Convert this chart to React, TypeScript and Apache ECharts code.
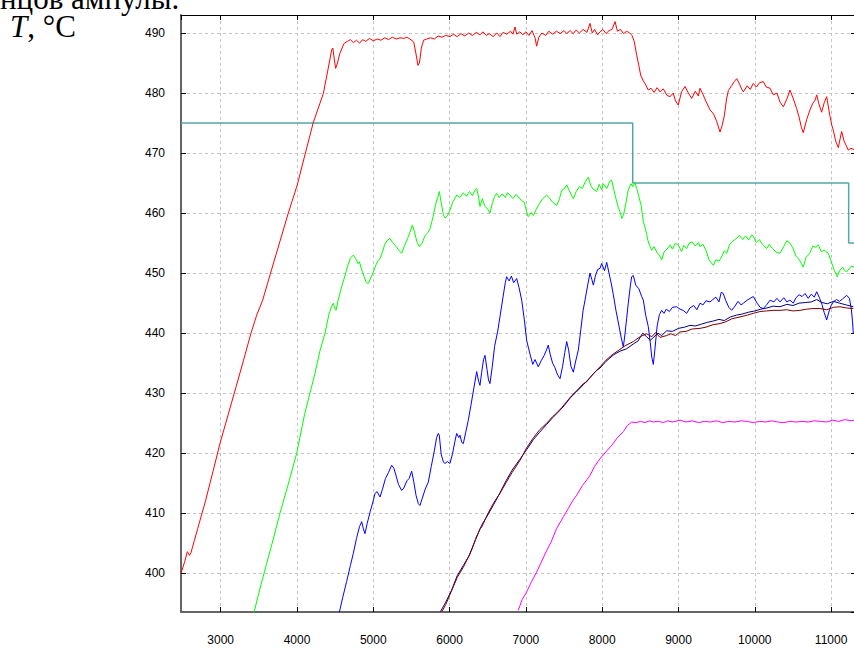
import React, { useEffect, useRef } from "react";
import * as echarts from "echarts";

const xTickLabels = ["3000", "4000", "5000", "6000", "7000", "8000", "9000", "10000", "11000"];
const yTickLabels = ["400", "410", "420", "430", "440", "450", "460", "470", "480", "490"];

const redSeries: [number, number][] = [
  [2480, 400], [2530, 402], [2563, 403.6], [2590, 403], [2610, 403.4], [2700, 407.5], [2800, 412], [2900, 417],
  [2990, 421.6], [3100, 426.5], [3200, 431], [3300, 435.5], [3397, 440], [3472, 443], [3550, 445.5], [3700, 452],
  [3886, 460], [4004, 464.7], [4100, 469.5], [4214, 475.1], [4345, 479.9], [4400, 483.5], [4455, 487.2], [4470, 487.5],
  [4490, 485.5], [4507, 484.1], [4530, 485], [4560, 486.5], [4600, 487.8], [4620, 488.3], [4660, 488.6], [4700, 488.9],
  [4740, 488.4], [4780, 488.8], [4820, 488.3], [4860, 488.9], [4900, 488.6], [4950, 489.1], [5000, 488.7], [5050, 489],
  [5100, 488.8], [5150, 489.2], [5200, 488.9], [5250, 489.3], [5300, 489], [5350, 489.2], [5400, 489.1], [5440, 489.3],
  [5480, 489], [5530, 488.5], [5560, 486.5], [5585, 484.6], [5605, 485], [5630, 487.5], [5660, 488.8], [5700, 489],
  [5750, 489.2], [5800, 489], [5850, 489.5], [5900, 489.3], [5950, 489.6], [6005, 489.4], [6050, 489.8], [6100, 489.4],
  [6150, 489.9], [6200, 489.5], [6250, 490], [6300, 489.6], [6350, 490.1], [6400, 489.7], [6437, 490.2], [6480, 489.6],
  [6520, 489.9], [6570, 489.4], [6620, 490], [6660, 489.4], [6700, 490.1], [6750, 489.8], [6800, 490.3], [6830, 489.8],
  [6857, 491], [6880, 489.8], [6920, 490.2], [6960, 489.7], [7000, 490.2], [7040, 489.6], [7080, 490.4], [7120, 489.2],
  [7141, 487.8], [7170, 489.3], [7210, 490], [7260, 489.6], [7300, 490.3], [7350, 489.8], [7400, 490.3], [7450, 489.9],
  [7500, 490.4], [7535, 489.9], [7580, 490.4], [7620, 489.9], [7660, 490.5], [7700, 490], [7750, 490.6], [7800, 490.1],
  [7840, 491.6], [7870, 490], [7900, 490.6], [7940, 489.7], [7971, 490.2], [8010, 490.6], [8050, 489.9], [8090, 490.4],
  [8130, 490.6], [8168, 491.9], [8200, 490.3], [8240, 490.6], [8280, 489.9], [8321, 490.3], [8360, 490], [8390, 489.6],
  [8420, 488.6], [8452, 486.3], [8480, 484.6], [8504, 483], [8540, 482], [8561, 481.6], [8604, 480.5], [8640, 480.8],
  [8680, 480.1], [8720, 480.9], [8757, 480.2], [8800, 480.7], [8850, 479.6], [8889, 479.4], [8930, 480], [8960, 478.7],
  [8997, 478], [9040, 480.2], [9085, 481.1], [9130, 480], [9173, 479.1], [9220, 480.3], [9260, 479.5], [9282, 480.8],
  [9320, 479.8], [9360, 478.6], [9413, 477.2], [9460, 476.5], [9500, 475.3], [9544, 473.5], [9570, 474.5], [9600, 476.2],
  [9630, 479], [9653, 480.4], [9700, 481.3], [9730, 481.9], [9763, 482.4], [9800, 481.5], [9830, 480.6], [9850, 480.2],
  [9900, 481.2], [9940, 480.6], [9980, 481.6], [10020, 481], [10060, 481.7], [10111, 481.9], [10150, 481], [10200, 480.8],
  [10242, 479.7], [10290, 480], [10330, 478.5], [10374, 477.7], [10420, 479], [10461, 480.5], [10500, 479.2], [10549, 477.4],
  [10580, 476], [10610, 474.3], [10635, 473.4], [10680, 475.6], [10723, 477.2], [10760, 478.3], [10790, 478.8], [10811, 479.7],
  [10840, 478.2], [10876, 476.8], [10910, 478.4], [10942, 479.4], [10980, 476.5], [11010, 474.6], [11029, 473.8], [11060, 472],
  [11094, 470.9], [11120, 472.5], [11138, 473.6], [11170, 472], [11200, 471.2], [11225, 470.5], [11260, 470.8], [11300, 470.6],
];

const greenSeries: [number, number][] = [
  [3437, 393.5], [3500, 396.7], [3600, 401.5], [3700, 406.2], [3777, 410], [3900, 415.5], [3996, 420], [4100, 426.5],
  [4236, 433.3], [4300, 437], [4367, 440], [4420, 443.2], [4455, 444.5], [4476, 445], [4500, 444], [4511, 443.8],
  [4540, 445.5], [4580, 447.5], [4620, 449.2], [4660, 451], [4700, 452.5], [4738, 453], [4770, 452.4], [4800, 451.6],
  [4817, 451.9], [4850, 450.5], [4880, 449.4], [4910, 448.4], [4935, 448.3], [4960, 449], [5000, 450.2], [5040, 451.5],
  [5066, 452.2], [5088, 452.4], [5120, 453.5], [5150, 454.8], [5180, 455.4], [5219, 455.8], [5250, 455.1], [5290, 454.6],
  [5330, 453.9], [5372, 453.3], [5410, 454.6], [5450, 455.8], [5480, 456.8], [5512, 458], [5540, 456.9], [5570, 455.3],
  [5603, 454.4], [5640, 455], [5680, 456.3], [5720, 456.8], [5743, 457.4], [5780, 459.2], [5820, 461.6], [5850, 462.8],
  [5865, 463.6], [5890, 461.8], [5920, 459.6], [5940, 459.2], [5970, 459.5], [6005, 460.5], [6040, 461.8], [6093, 463],
  [6136, 462.6], [6180, 463.4], [6220, 462.8], [6260, 463.6], [6300, 462.9], [6330, 463.8], [6355, 464.1], [6380, 462.7],
  [6398, 461.1], [6430, 462.4], [6460, 461.2], [6500, 460.6], [6529, 460], [6560, 461.6], [6590, 462.8], [6617, 463.3],
  [6650, 462.6], [6690, 463.2], [6730, 462.6], [6760, 463.4], [6791, 463], [6830, 462.4], [6870, 463.1], [6900, 462.7],
  [6940, 462.1], [6980, 461.8], [7010, 460.2], [7031, 459.4], [7070, 460.1], [7100, 459.6], [7141, 460.8], [7180, 461.6],
  [7220, 462.4], [7272, 463], [7310, 462.5], [7350, 461.8], [7404, 461.3], [7440, 462.4], [7470, 463.8], [7500, 464],
  [7535, 464.7], [7570, 463.7], [7600, 462.9], [7622, 462.4], [7660, 463.6], [7700, 464.4], [7740, 464.1], [7780, 465.3],
  [7818, 466], [7850, 464.6], [7880, 464], [7928, 463.6], [7960, 464.8], [7993, 463.9], [8015, 464.9], [8060, 464.1],
  [8100, 465.3], [8124, 465.5], [8150, 464], [8180, 462.4], [8210, 461], [8240, 460], [8256, 459.1], [8280, 459.7],
  [8310, 461.6], [8340, 463.8], [8378, 464.9], [8400, 464.4], [8430, 465.1], [8452, 464.1], [8480, 462.8], [8510, 461.3],
  [8539, 458.6], [8570, 457.2], [8604, 455.2], [8630, 454.4], [8648, 453.8], [8680, 454.4], [8720, 453.4], [8750, 453],
  [8779, 452.2], [8810, 453.5], [8850, 454], [8889, 454.7], [8920, 454], [8960, 455], [9000, 454.6], [9040, 453.6],
  [9070, 454.6], [9107, 454.1], [9140, 455], [9180, 455.2], [9220, 454.5], [9260, 455.1], [9282, 454.4], [9320, 454.8],
  [9360, 453.8], [9400, 452.2], [9457, 451.3], [9490, 452.2], [9530, 452], [9560, 452.6], [9600, 453.7], [9632, 453.3],
  [9670, 454.8], [9710, 455.3], [9763, 455.8], [9800, 456.3], [9840, 455.6], [9880, 456.2], [9920, 455.5], [9960, 456.4],
  [9980, 456.1], [10020, 455.1], [10060, 455.6], [10100, 454.8], [10156, 454.1], [10190, 454.8], [10230, 454.1], [10280, 453.5],
  [10330, 453.3], [10370, 454.2], [10420, 455.4], [10461, 455], [10500, 454.2], [10540, 452.8], [10580, 452.3], [10610, 451.6],
  [10635, 451], [10670, 452.6], [10720, 453.3], [10760, 454.5], [10800, 454.3], [10832, 454.7], [10870, 453.6], [10910, 453.8],
  [10963, 453.3], [11000, 452], [11040, 450.5], [11081, 449.4], [11110, 450.4], [11150, 451], [11180, 450.4], [11204, 450.2],
  [11240, 450.8], [11270, 451.2], [11300, 451],
];

const blueSeries: [number, number][] = [
  [4555, 393.5], [4600, 396], [4650, 398.6], [4700, 401.3], [4738, 403.3], [4780, 405.8], [4820, 407.8], [4848, 408.6],
  [4870, 407.4], [4891, 406.6], [4920, 408.3], [4960, 410.3], [5000, 412.1], [5022, 413.3], [5050, 413.6], [5088, 412.7],
  [5120, 414], [5160, 415.8], [5200, 416.8], [5241, 418], [5270, 417.5], [5300, 416.2], [5330, 414.8], [5372, 413.8],
  [5400, 414.2], [5440, 415.4], [5470, 415.8], [5503, 417], [5530, 415.3], [5560, 413], [5590, 411.6], [5612, 411.3],
  [5640, 412.4], [5680, 414], [5721, 415.2], [5760, 417.8], [5800, 420.4], [5830, 422.6], [5852, 423.3], [5865, 423],
  [5890, 419.8], [5920, 418.5], [5940, 418.3], [5970, 418.6], [6005, 418.3], [6040, 420], [6070, 422], [6093, 423.3],
  [6120, 422.6], [6136, 423], [6160, 421.8], [6180, 421.6], [6210, 423.4], [6245, 425.5], [6280, 428], [6320, 431],
  [6355, 433.6], [6380, 432], [6398, 431.3], [6420, 433.4], [6445, 435.6], [6464, 436.3], [6490, 434], [6510, 432.2],
  [6529, 431.6], [6560, 434.5], [6590, 437.8], [6630, 440.3], [6660, 442.7], [6700, 446], [6730, 448.4], [6747, 449.4],
  [6780, 448.7], [6810, 449.5], [6840, 448.4], [6879, 449.1], [6910, 447.6], [6945, 445.5], [6980, 442.2], [7010, 438.8],
  [7031, 437.7], [7060, 436.2], [7090, 434.8], [7120, 435.6], [7162, 434.4], [7200, 435.4], [7240, 436.3], [7270, 437.2],
  [7293, 438], [7320, 436.4], [7350, 435], [7380, 434.3], [7410, 433.2], [7447, 432.4], [7480, 434.4], [7510, 436.8],
  [7535, 438.6], [7560, 437.2], [7590, 434.5], [7622, 433.5], [7650, 435.2], [7687, 437.2], [7720, 440.6], [7750, 443.8],
  [7775, 445.5], [7810, 448], [7840, 450], [7865, 448.9], [7884, 448], [7910, 449.5], [7940, 450.6], [7972, 450.8],
  [7993, 451.6], [8030, 450.4], [8059, 451.8], [8090, 450], [8120, 448.2], [8146, 446.4], [8180, 443.8], [8220, 441.2],
  [8250, 439.2], [8277, 437.7], [8300, 440], [8320, 442.4], [8342, 445], [8370, 448], [8386, 449.4], [8408, 449.6],
  [8440, 448], [8480, 447.4], [8518, 446.1], [8539, 445.5], [8570, 443], [8604, 441.1], [8630, 438.4], [8650, 436],
  [8670, 434.8], [8690, 437.2], [8720, 441.2], [8750, 443.1], [8779, 443.8], [8810, 443.3], [8840, 444], [8880, 443.6],
  [8920, 444.3], [8976, 444.4], [9020, 444], [9060, 443.8], [9107, 443.3], [9150, 444.2], [9200, 444.6], [9240, 443.9],
  [9282, 445], [9320, 444.7], [9360, 445.4], [9413, 445.2], [9450, 445.6], [9490, 446], [9530, 445.2], [9560, 446.8],
  [9587, 446.6], [9620, 445.4], [9660, 444.3], [9697, 443.8], [9740, 444.5], [9780, 445.3], [9820, 444.7], [9850, 445],
  [9900, 445.5], [9940, 445.8], [9980, 446.1], [10030, 445], [10070, 444.3], [10111, 444.1], [10160, 444.8], [10200, 445.5],
  [10250, 445.2], [10290, 445.8], [10330, 445.2], [10380, 445.9], [10420, 445.2], [10460, 445.5], [10505, 445], [10540, 445.9],
  [10580, 446.4], [10620, 446.1], [10658, 446.6], [10700, 445.8], [10740, 446.5], [10780, 446], [10811, 446.9], [10850, 445.8],
  [10880, 444.8], [10910, 443.4], [10942, 442.2], [10970, 443.5], [11000, 444.6], [11029, 445.2], [11070, 445.6], [11110, 445.3],
  [11150, 445.7], [11204, 446.3], [11240, 445.8], [11265, 444], [11280, 442], [11291, 440],
];

const maroonSeries: [number, number][] = [
  [5900, 393.6], [5950, 394.8], [6000, 396.3], [6050, 397.8], [6100, 399.3], [6180, 401], [6250, 402.8], [6300, 404.3],
  [6350, 406], [6398, 407.4], [6421, 407.7], [6500, 409.9], [6580, 411.8], [6660, 413.3], [6740, 415.1], [6820, 416.8],
  [6922, 418.8], [7010, 420.9], [7100, 422.6], [7180, 423.9], [7272, 425], [7350, 426.1], [7404, 426.7], [7470, 427.6],
  [7535, 428.6], [7600, 429.6], [7680, 430.6], [7753, 431.6], [7797, 431.9], [7880, 433.2], [7972, 434.4], [8050, 435.5],
  [8130, 436.4], [8233, 437.3], [8300, 437.9], [8408, 438.6], [8495, 439.4], [8583, 439.9], [8650, 439.4], [8700, 440.1],
  [8757, 439.3], [8845, 439.6], [8900, 439.9], [8960, 439.6], [9019, 440.2], [9100, 440.3], [9180, 440.7], [9282, 440.8],
  [9360, 441], [9450, 441.4], [9544, 441.6], [9620, 441.9], [9700, 442.4], [9806, 442.7], [9900, 443], [9980, 443.3],
  [10068, 443.6], [10150, 443.7], [10250, 443.8], [10330, 443.8], [10420, 443.9], [10500, 443.7], [10592, 443.8], [10680, 444],
  [10760, 444.1], [10854, 444.1], [10940, 443.9], [11030, 444.3], [11117, 444.4], [11200, 444.2], [11291, 444.1],
];

const navySeries: [number, number][] = [
  [5880, 393.6], [5950, 395.2], [6020, 397], [6100, 399.6], [6180, 401.3], [6260, 403], [6340, 405.6], [6420, 408],
  [6500, 409.7], [6580, 411.5], [6660, 413.4], [6740, 415.4], [6820, 417.2], [6922, 419], [7010, 420.6], [7100, 422.3],
  [7180, 423.5], [7272, 424.8], [7350, 425.9], [7420, 426.8], [7500, 427.9], [7580, 429.2], [7660, 430.2], [7753, 431.4],
  [7840, 432.6], [7920, 433.7], [7972, 434.2], [8050, 435.3], [8150, 436.4], [8233, 437], [8320, 437.4], [8408, 438.2],
  [8470, 438.7], [8530, 440], [8583, 439.4], [8630, 438.8], [8680, 439.4], [8730, 440], [8780, 439.6], [8845, 440.4],
  [8920, 440.3], [9000, 440.8], [9080, 441], [9150, 441.3], [9220, 441.2], [9300, 441.5], [9380, 441.8], [9450, 442],
  [9530, 442.3], [9600, 442.1], [9680, 442.7], [9760, 443], [9840, 443.2], [9920, 443.5], [10000, 443.7], [10080, 444],
  [10160, 444.2], [10240, 444.5], [10330, 444.4], [10420, 444.8], [10500, 444.6], [10580, 445], [10660, 445.1], [10740, 445.2],
  [10811, 445.6], [10880, 445.1], [10950, 444.9], [11030, 445.3], [11110, 445], [11200, 444.7], [11291, 444.4],
];

const magentaSeries: [number, number][] = [
  [6900, 393.8], [6950, 395.6], [7010, 396.9], [7070, 398.5], [7141, 400.2], [7200, 401.8], [7272, 403.8], [7330, 405.2],
  [7400, 407.4], [7491, 409.4], [7560, 410.9], [7620, 412.2], [7666, 413], [7740, 414.6], [7800, 415.6], [7840, 416.3],
  [7900, 417.8], [7950, 418.7], [7993, 419.4], [8060, 420.4], [8124, 421.3], [8200, 422.6], [8277, 423.6], [8330, 424.6],
  [8386, 425.2], [8450, 425.1], [8500, 425.3], [8560, 425.1], [8620, 425.4], [8670, 425.2], [8740, 425.3], [8800, 425.1],
  [8860, 425.4], [8920, 425.2], [9019, 425.5], [9100, 425.2], [9180, 425.4], [9260, 425.1], [9340, 425.3], [9420, 425.2],
  [9500, 425.4], [9580, 425.1], [9660, 425.3], [9740, 425.2], [9820, 425.4], [9900, 425.3], [9980, 425.1], [10060, 425.3],
  [10140, 425.2], [10220, 425.4], [10300, 425.2], [10380, 425.1], [10460, 425.3], [10540, 425.2], [10620, 425.3], [10700, 425.2],
  [10780, 425.4], [10860, 425.3], [10940, 425.2], [11020, 425.5], [11100, 425.3], [11180, 425.6], [11260, 425.4], [11300, 425.5],
];

const setpointSeries: [number, number][] = [
  [2480, 475], [8400, 475], [8400, 465], [11230, 465], [11230, 455], [11300, 455],
];

const X_MIN = 2480;
const X_MAX = 11300;
const Y_MIN = 393.55;
const Y_MAX = 493;

const LABEL_FONT = "Liberation Sans";

export default function App() {
  const ref = useRef<HTMLDivElement>(null);

  useEffect(() => {
    if (!ref.current) return;
    const chart = echarts.init(ref.current, undefined, { renderer: "svg" });
    const line = (data: [number, number][], color: string, width = 1) => ({
      type: "line" as const,
      data,
      showSymbol: false,
      symbol: "none",
      silent: true,
      lineStyle: { color, width },
      clip: true,
    });
    chart.setOption({
      animation: false,
      backgroundColor: "#ffffff",
      grid: { left: 181, right: 0, top: 15, bottom: 36, containLabel: false },
      xAxis: [
        {
          type: "value",
          position: "bottom",
          min: X_MIN,
          max: X_MAX,
          splitNumber: 9,
          axisLine: { show: true, lineStyle: { color: "#666666", width: 2 } },
          axisTick: { show: true, inside: true, length: 5, lineStyle: { color: "#000000", width: 1 } },
          axisLabel: {
            show: true,
            margin: 22,
            showMinLabel: false,
            showMaxLabel: false,
            fontFamily: LABEL_FONT,
            fontSize: 12,
            color: "#000000",
            formatter: (v: number) => (xTickLabels.includes(String(v)) ? String(v) : ""),
          },
          splitLine: { show: true, lineStyle: { color: "#c4c4c4", type: [3, 3], width: 1 } },
        },
        {
          type: "value",
          position: "top",
          min: X_MIN,
          max: X_MAX,
          splitNumber: 9,
          axisLine: { show: true, lineStyle: { color: "#000000", width: 1 } },
          axisTick: { show: true, inside: true, length: 5, lineStyle: { color: "#000000", width: 1 } },
          axisLabel: { show: false },
          splitLine: { show: false },
        },
      ],
      yAxis: [
        {
          type: "value",
          position: "left",
          min: Y_MIN,
          max: Y_MAX,
          splitNumber: 10,
          axisLine: { show: true, lineStyle: { color: "#666666", width: 2 } },
          axisTick: { show: true, inside: true, length: 5, lineStyle: { color: "#000000", width: 1 } },
          axisLabel: {
            show: true,
            margin: 16,
            showMinLabel: false,
            showMaxLabel: false,
            fontFamily: LABEL_FONT,
            fontSize: 12,
            color: "#000000",
            padding: [6, 0, 0, 0],
            formatter: (v: number) => (yTickLabels.includes(String(v)) ? String(v) : ""),
          },
          splitLine: { show: true, lineStyle: { color: "#c4c4c4", type: [3, 3], width: 1 } },
        },
        {
          type: "value",
          position: "right",
          min: Y_MIN,
          max: Y_MAX,
          splitNumber: 10,
          axisLine: { show: false },
          axisTick: { show: true, inside: true, length: 3, lineStyle: { color: "#000000", width: 1 } },
          axisLabel: { show: false },
          splitLine: { show: false },
        },
      ],
      series: [
        line(setpointSeries, "#52a6a6", 1.5),
        line(redSeries, "#ff0000"),
        line(greenSeries, "#00ff00"),
        line(blueSeries, "#0000ff"),
        line(magentaSeries, "#ff00ff"),
        line(navySeries, "#000080"),
        line(maroonSeries, "#800000"),
      ],
      graphic: [
        {
          type: "text",
          left: 0,
          top: -17,
          silent: true,
          style: {
            text: "нцов ампулы.",
            fontFamily: "Liberation Serif",
            fontSize: 31,
            lineHeight: 27,
            fill: "#000000",
          },
        },
        {
          type: "text",
          left: 10,
          top: 11,
          silent: true,
          style: {
            text: "{i|T}, °C",
            fontFamily: "Liberation Serif",
            fontSize: 31,
            lineHeight: 27,
            fill: "#000000",
            rich: {
              i: { fontStyle: "italic", fontFamily: "Liberation Serif", fontSize: 31, lineHeight: 27, fill: "#000000" },
            },
          },
        },
      ],
    });
    return () => chart.dispose();
  }, []);

  return (
    <div
      ref={ref}
      style={{ position: "fixed", left: 0, top: 0, width: 854, height: 648, background: "#ffffff" }}
    />
  );
}
